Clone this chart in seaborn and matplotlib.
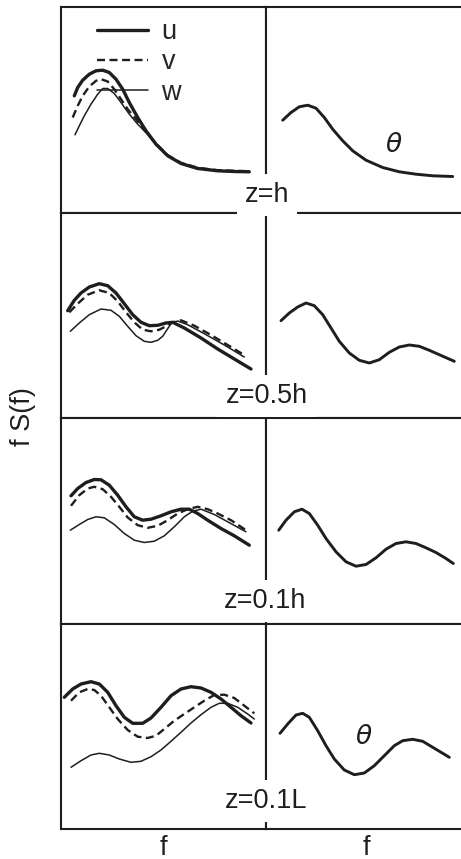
import matplotlib
matplotlib.use("Agg")
import matplotlib.pyplot as plt
import seaborn as sns

# ---------------- data (relative units: f along x, f S(f) along y) ----------------
ROW_LABELS = ["z=h", "z=0.5h", "z=0.1h", "z=0.1L"]
SERIES_NAMES = ["u", "v", "w"]
X_LABEL = "f"
Y_LABEL = "f S(f)"

# row 1 : z=h
U1_X = [13.3, 16.7, 21.7, 28.3, 35, 41.7, 48.3, 55, 61.7, 68.3, 76.7, 85, 95, 106.7, 120, 136.7, 156.7, 173.3, 188.3]
U1_Y = [116.7, 125, 132.3, 138.3, 141.7, 142.3, 140, 133.3, 123.3, 110, 95, 81.7, 68.3, 56.7, 49, 44, 41.7, 41, 40.7]
V1_X = [11.7, 16.7, 21.7, 28.3, 35, 40, 46.7, 53.3, 60, 66.7, 75, 83.3, 95, 106.7, 120, 136.7, 156.7, 173.3, 188.3]
V1_Y = [95, 106.7, 116.7, 126, 131.7, 133.3, 131, 123.3, 113.3, 103.3, 93.3, 82.3, 69, 57.3, 49.7, 44.7, 42.3, 41.7, 41.3]
W1_X = [14, 18.3, 23.3, 30, 36.7, 41.7, 46.7, 53.3, 60, 68.3, 76.7, 85, 95, 106.7, 120, 136.7, 156.7, 173.3, 188.3]
W1_Y = [77.7, 86.7, 96.7, 108.3, 118.3, 124, 124, 119, 110, 98.3, 88.3, 80, 68.3, 57, 49.3, 44.3, 42, 41.3, 41]
T1_X = [16.7, 25, 33.3, 41.7, 50, 58.3, 66.7, 76.7, 86.7, 100, 116.7, 133.3, 150, 166.7, 186.7]
T1_Y = [92.3, 100, 105.7, 107.3, 104.3, 95, 83.3, 71.7, 61.7, 52.3, 45, 40.7, 38.3, 36.7, 36]

# row 2 : z=0.5h
U2_X = [6.7, 13.3, 20, 28.3, 38.3, 46.7, 55, 63.3, 71.7, 80, 88.3, 96.7, 105, 111.7, 123.3, 140, 156.7, 173.3, 190]
U2_Y = [107.3, 117.7, 125, 131, 134.3, 132.3, 125, 114.3, 103.3, 95.7, 92.3, 92.7, 95, 95.7, 90, 80, 69, 59, 49]
V2_X = [8.3, 16.7, 26.7, 38.3, 48.3, 56.7, 65, 73.3, 81.7, 90, 98.3, 105, 111.7, 120, 133.3, 150, 166.7, 182.7]
V2_Y = [105.7, 114.3, 123.3, 127.7, 125, 116.7, 105.7, 95.7, 88.3, 86.7, 88.3, 91.7, 95.7, 97.7, 92.3, 83, 73, 63.3]
W2_X = [9.3, 18.3, 28.3, 40, 50, 58.3, 66.7, 75, 83.3, 90, 96.7, 101.7, 106, 110, 116.7, 126.7, 143.3, 163.3, 183.3]
W2_Y = [86.7, 95, 103.3, 109, 107.7, 101.7, 91.7, 82.3, 76.7, 75.7, 77.7, 81.7, 88.3, 94.3, 97, 93.3, 84.3, 73, 61]
T2_X = [15, 23.3, 31.7, 40, 48.3, 56.7, 65, 73.3, 83.3, 93.3, 103.3, 113.3, 123.3, 133.3, 143.3, 153.3, 163.3, 173.3, 188.3]
T2_Y = [97.3, 105, 111, 115, 112.3, 103.3, 90, 76.7, 65, 57.7, 55, 58.3, 65.7, 71, 73, 71.7, 67.7, 63.3, 56.7]

# row 3 : z=0.1h
U3_X = [10, 16.7, 25, 33.3, 40, 48.3, 56.7, 65, 73.3, 81.7, 90, 100, 110, 120, 128.3, 136.7, 146.7, 160, 173.3, 188.3]
U3_Y = [127.7, 135, 141, 144, 143.7, 138.3, 128.3, 116.7, 106.7, 103.3, 104.3, 107.7, 111.7, 114.3, 114.3, 110, 103.3, 95, 87.7, 78.3]
V3_X = [10, 18.3, 26.7, 33.3, 41.7, 50, 58.3, 66.7, 76.7, 86.7, 96.7, 106.7, 116.7, 126.7, 136.7, 146.7, 156.7, 170, 185]
V3_Y = [117.7, 128.3, 135, 136.7, 134.3, 126.7, 116.7, 106, 98.3, 95.7, 97.7, 103.3, 110, 114.3, 116.7, 114.3, 110, 103.3, 93.3]
W3_X = [9.3, 18.3, 26.7, 35, 43.3, 53.3, 63.3, 73.3, 83.3, 93.3, 103.3, 113.3, 123.3, 131.7, 140, 153.3, 166.7, 185]
W3_Y = [93.3, 99, 104, 106.7, 105.7, 99, 90, 83.3, 81, 82.3, 87.7, 96.7, 106.7, 112.3, 114.3, 109, 101.7, 91.7]
T3_X = [12.7, 20, 28.3, 36, 43.3, 51.7, 60, 70, 80, 90, 100, 110, 120, 130, 140, 150, 160, 170, 180, 187.3]
T3_Y = [93.3, 103.3, 111.7, 114.3, 110, 98.3, 85, 71.7, 61.7, 57.3, 59, 65.7, 74.3, 80, 81.7, 80, 75.7, 71, 65, 60]

# row 4 : z=0.1L
U4_X = [3.3, 11.7, 20, 30, 38.3, 46.7, 55, 63.3, 71.7, 81.7, 90, 100, 110, 120, 130, 140, 150, 160, 170, 180, 190]
U4_Y = [131.7, 140, 145, 147.3, 145, 136.7, 123.3, 111.7, 105.7, 105.7, 111, 121.7, 133.3, 140, 142.3, 141, 136.7, 130, 121.7, 113.3, 106]
V4_X = [10, 18.3, 26.7, 33.3, 40, 48.3, 56.7, 66.7, 76.7, 86.7, 95, 103.3, 113.3, 123.3, 133.3, 143.3, 153.3, 163.3, 173.3, 183.3, 193.3]
V4_Y = [128.3, 136.7, 140, 139, 133.3, 121.7, 110, 99, 92.3, 91, 93.3, 100, 108.3, 115, 121.7, 128.3, 134, 134.3, 131, 123.3, 115.7]
W4_X = [10, 20, 30, 38.3, 48.3, 58.3, 70, 80, 90, 100, 110, 120, 130, 140, 150, 158.3, 166.7, 176.7, 186.7, 193.3]
W4_Y = [61.7, 68.3, 74, 75.7, 74, 70, 66.7, 67.7, 72.3, 79, 87.7, 96.7, 106, 114.3, 121.7, 125.7, 125.7, 121.7, 115, 110]
T4_X = [14, 21.7, 30, 36.7, 43.3, 51.7, 60, 68.3, 78.3, 88.3, 98.3, 108.3, 118.3, 128.3, 136.7, 146.7, 156.7, 166.7, 176.7, 183.3]
T4_Y = [95.7, 105, 114, 115.7, 111.7, 98.3, 83.3, 70, 59, 54.3, 56, 63.3, 73.3, 83.3, 88.3, 89.7, 87.7, 81.7, 75.7, 71.7]

ROWS = [
    ((U1_X, U1_Y), (V1_X, V1_Y), (W1_X, W1_Y), (T1_X, T1_Y)),
    ((U2_X, U2_Y), (V2_X, V2_Y), (W2_X, W2_Y), (T2_X, T2_Y)),
    ((U3_X, U3_Y), (V3_X, V3_Y), (W3_X, W3_Y), (T3_X, T3_Y)),
    ((U4_X, U4_Y), (V4_X, V4_Y), (W4_X, W4_Y), (T4_X, T4_Y)),
]

# ---------------- style ----------------
INK = "#1e1e1e"
sns.set_theme(style="white")
plt.rcParams["font.family"] = ["Liberation Sans", "DejaVu Sans"]
plt.rcParams["mathtext.fontset"] = "dejavusans"
FS = 19.5

SERIES_STYLE = {
    "u": dict(lw=2.4, linestyle="-"),
    "v": dict(lw=1.7, linestyle=(0, (3.4, 1.9))),
    "w": dict(lw=1.1, linestyle="-"),
}

W_PX, H_PX = 461, 859
fig = plt.figure(figsize=(W_PX / 100, H_PX / 100), dpi=100)
fig.patch.set_facecolor("white")

LEFT, MID, RIGHT_W = 61, 266, 200
TOP, ROW_H = 7, 205.5
XL_MAX, XR_MAX, Y_MAX = 205, 200, 205.5

label_baselines = [202, 403, 608, 808]
label_centers = [267, 266.5, 265, 266]
theta_labels = {0: (128, 67.5), 3: (98, 91.5)}


def style_axes(ax, xmax):
    ax.set_xlim(0, xmax)
    ax.set_ylim(0, Y_MAX)
    ax.set_xticks([])
    ax.set_yticks([])
    ax.set_xlabel("")
    ax.set_ylabel("")
    ax.set_facecolor("white")
    for s in ax.spines.values():
        s.set_visible(True)
        s.set_linewidth(1.5)
        s.set_color(INK)


for i, row in enumerate(ROWS):
    y_top = TOP + ROW_H * i
    bottom = 1 - (y_top + ROW_H) / H_PX
    axL = fig.add_axes([LEFT / W_PX, bottom, (MID - LEFT) / W_PX, ROW_H / H_PX])
    axR = fig.add_axes([MID / W_PX, bottom, RIGHT_W / W_PX, ROW_H / H_PX])

    for name, (xs, ys) in zip(SERIES_NAMES, row[:3]):
        st = SERIES_STYLE[name]
        sns.lineplot(x=xs, y=ys, ax=axL, sort=False, estimator=None, color=INK,
                     lw=st["lw"], linestyle=st["linestyle"],
                     label=name if i == 0 else None,
                     solid_capstyle="round", solid_joinstyle="round",
                     dash_capstyle="butt")
    tx, ty = row[3]
    sns.lineplot(x=tx, y=ty, ax=axR, sort=False, estimator=None, color=INK,
                 lw=2.1, solid_capstyle="round", solid_joinstyle="round")

    style_axes(axL, XL_MAX)
    style_axes(axR, XR_MAX)

    if i == 0:
        axL.legend(loc="upper left", bbox_to_anchor=(36 / XL_MAX, 1 - 12 / Y_MAX),
                   frameon=False, borderpad=0, borderaxespad=0,
                   handlelength=1.88, handletextpad=0.5, labelspacing=0.16,
                   fontsize=FS)
    else:
        leg = axL.get_legend()
        if leg is not None:
            leg.remove()
    leg = axR.get_legend()
    if leg is not None:
        leg.remove()

    if i in theta_labels:
        px, py = theta_labels[i]
        axR.text(px, py, r"$\theta$", ha="center", va="center", fontsize=19, color=INK)

    if i == 3:
        axL.set_xlabel(X_LABEL, fontsize=FS, labelpad=4, color=INK)
        axR.set_xlabel(X_LABEL, fontsize=FS, labelpad=4, color=INK)
    fig.text(label_centers[i] / W_PX, 1 - label_baselines[i] / H_PX, ROW_LABELS[i],
             ha="center", va="baseline", fontsize=FS, color=INK, zorder=10,
             bbox=dict(boxstyle="square,pad=0.3", fc="white", ec="none"))

fig.text(23 / W_PX, 1 - 417 / H_PX, Y_LABEL, rotation=90, ha="center", va="center",
         fontsize=FS, color=INK)

fig.savefig("out.png", dpi=100, facecolor="white")
